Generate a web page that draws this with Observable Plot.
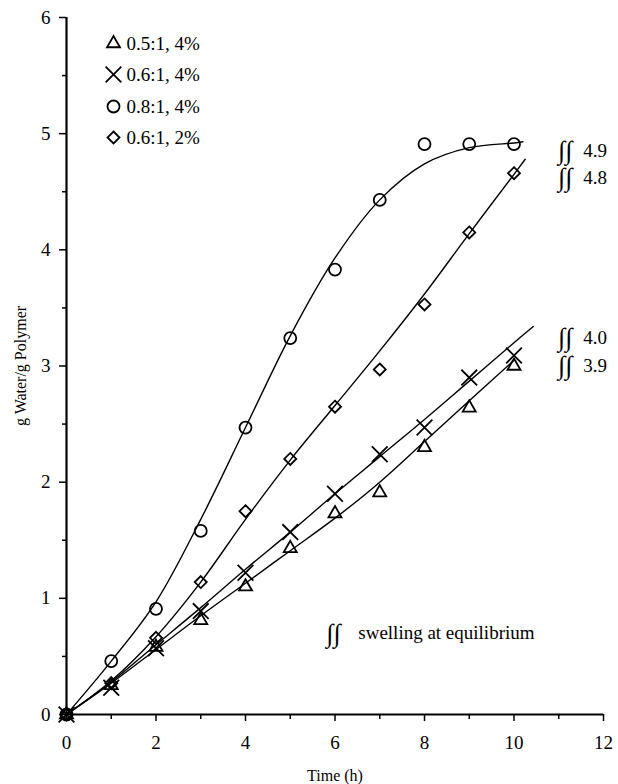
<!DOCTYPE html>
<html><head><meta charset="utf-8">
<script src="https://cdn.jsdelivr.net/npm/d3@7"></script>
<script src="https://cdn.jsdelivr.net/npm/@observablehq/plot@0.6"></script>
<style>body{margin:0;background:#fff} svg, svg text{font-family:"Liberation Serif",serif !important}</style>
</head><body><div id="chart"></div>
<script>
// ---- data ----
const hours = [0, 1, 2, 3, 4, 5, 6, 7, 8, 9, 10];
const seriesNames = ["0.5:1, 4%", "0.6:1, 4%", "0.8:1, 4%", "0.6:1, 2%"];
const water05_4 = [0, 0.25, 0.58, 0.81, 1.10, 1.43, 1.73, 1.91, 2.30, 2.64, 3.00];
const water06_4 = [0, 0.23, 0.57, 0.89, 1.22, 1.57, 1.90, 2.24, 2.47, 2.90, 3.09];
const water08_4 = [0, 0.46, 0.91, 1.58, 2.47, 3.24, 3.83, 4.43, 4.91, 4.91, 4.91];
const water06_2 = [0, 0.27, 0.66, 1.14, 1.75, 2.20, 2.65, 2.97, 3.53, 4.15, 4.66];
// fitted curves
const fitX05_4 = [0, 1, 2, 3, 4, 5, 6, 7, 8, 9, 10];
const fitY05_4 = [0, 0.27, 0.56, 0.85, 1.13, 1.41, 1.69, 2.00, 2.35, 2.70, 3.05];
const fitX06_4 = [0, 1, 2, 3, 4, 5, 6, 7, 8, 9, 10, 10.43];
const fitY06_4 = [0, 0.28, 0.60, 0.92, 1.25, 1.57, 1.90, 2.22, 2.54, 2.87, 3.20, 3.34];
const fitX08_4 = [0, 1, 2, 3, 4, 5, 6, 7, 8, 9, 10, 10.2];
const fitY08_4 = [0, 0.46, 0.97, 1.68, 2.47, 3.26, 3.93, 4.43, 4.74, 4.88, 4.92, 4.93];
const fitX06_2 = [0, 1, 2, 3, 4, 5, 6, 7, 8, 9, 10, 10.25];
const fitY06_2 = [0, 0.29, 0.67, 1.14, 1.68, 2.19, 2.66, 3.13, 3.62, 4.14, 4.65, 4.78];
// equilibrium swelling annotations
const eqValues = ["4.9", "4.8", "4.0", "3.9"];
const eqLabelY = [4.85, 4.62, 3.24, 3.00];
const noteText = ["swelling at equilibrium"];
// ticks
const xTicks = [0, 2, 4, 6, 8, 10, 12];
const xMinor = [1, 3, 5, 7, 9, 11];
const yTicks = [0, 1, 2, 3, 4, 5, 6];
const yMinor = [0.5, 1.5, 2.5, 3.5, 4.5, 5.5];

const FONT = "Liberation Serif";
const pts = (ys) => hours.map((h, i) => ({x: h, y: ys[i]}));
const fit = (xs, ys) => xs.map((x, i) => ({x, y: ys[i]}));

const series = [
  {pts: pts(water05_4), fit: fit(fitX05_4, fitY05_4), symbol: "triangle2", r: 6.2},
  {pts: pts(water06_4), fit: fit(fitX06_4, fitY06_4), symbol: "times", r: 7.2},
  {pts: pts(water08_4), fit: fit(fitX08_4, fitY08_4), symbol: "circle", r: 6},
  {pts: pts(water06_2), fit: fit(fitX06_2, fitY06_2), symbol: "diamond2", r: 5.4}
];

const legendRows = [26, 57, 89, 120];

const marks = [
  Plot.axisX({ticks: xTicks, tickSize: 7, tickPadding: 14, strokeWidth: 1.5, label: null, fontSize: 19, fontFamily: FONT, tickFormat: d3.format("d")}),
  Plot.axisX({ticks: xMinor, tickSize: 5, strokeWidth: 1.5, text: null, label: null}),
  Plot.axisY({ticks: yTicks, tickSize: 7, tickPadding: 9, strokeWidth: 1.5, label: null, fontSize: 19, fontFamily: FONT, tickFormat: d3.format("d")}),
  Plot.axisY({ticks: yMinor, tickSize: 4, strokeWidth: 1.5, text: null, label: null}),
  Plot.ruleX([0], {strokeWidth: 2.2}),
  Plot.ruleY([0], {strokeWidth: 2.2})
];

series.forEach((s, i) => {
  marks.push(Plot.line(s.fit, {x: "x", y: "y", curve: "catmull-rom", stroke: "black", strokeWidth: 1.4}));
  marks.push(Plot.dot(s.pts, {x: "x", y: "y", symbol: s.symbol, r: s.r, stroke: "black", fill: "none", strokeWidth: 1.8}));
  marks.push(Plot.dot([seriesNames[i]], {frameAnchor: "top-left", dx: 47, dy: legendRows[i], symbol: s.symbol, r: s.r, stroke: "black", fill: "none", strokeWidth: 1.8}));
  marks.push(Plot.text([seriesNames[i]], {frameAnchor: "top-left", dx: 60, dy: legendRows[i], textAnchor: "start", lineAnchor: "middle", fontSize: 19, fontFamily: FONT, fill: "black"}));
});

marks.push(
  Plot.text(eqValues, {x: () => 11.15, y: (d, i) => eqLabelY[i], text: () => "∫∫", fontSize: 26, fontStyle: "italic", fontFamily: FONT, fill: "black"}),
  Plot.text(eqValues, {x: () => 11.55, y: (d, i) => eqLabelY[i], text: d => d, textAnchor: "start", fontSize: 19, fontFamily: FONT, fill: "black"}),
  Plot.text(noteText, {x: () => 5.97, y: () => 0.70, text: () => "∫∫", fontSize: 26, fontStyle: "italic", fontFamily: FONT, fill: "black"}),
  Plot.text(noteText, {x: () => 6.52, y: () => 0.70, textAnchor: "start", fontSize: 19, fontFamily: FONT, fill: "black"}),
  Plot.text(["Time (h)"], {frameAnchor: "bottom", dy: 61, textAnchor: "middle", lineAnchor: "middle", fontSize: 16, fontFamily: FONT, fill: "black"}),
  Plot.text(["g Water/g Polymer"], {frameAnchor: "left", dx: -46, rotate: -90, textAnchor: "middle", lineAnchor: "middle", fontSize: 16, fontFamily: FONT, fill: "black"})
);

const chart = Plot.plot({
  width: 618, height: 784,
  marginTop: 17, marginBottom: 70, marginLeft: 66, marginRight: 15,
  style: {fontFamily: FONT, fontSize: "19px", color: "black", background: "white"},
  x: {domain: [0, 12]},
  y: {domain: [0, 6]},
  marks
});
document.getElementById("chart").appendChild(chart);
</script>
</body></html>
